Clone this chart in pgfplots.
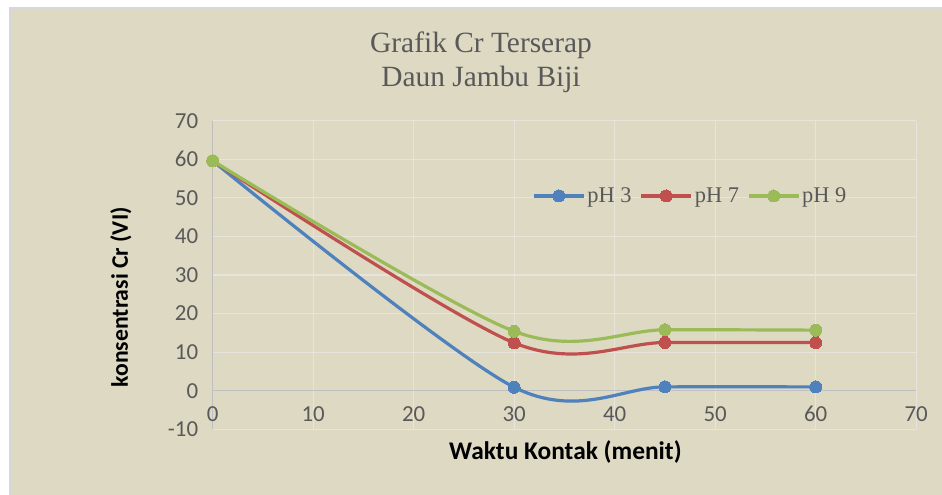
\documentclass[border=0pt]{standalone}
\usepackage{pgfplots}
\pgfplotsset{compat=1.18}
\usepackage{fontspec}
\setmainfont{Liberation Serif}
\newfontfamily\calibri{Carlito}
\definecolor{bgbeige}{RGB}{221,217,195}
\definecolor{framec}{RGB}{214,214,220}
\definecolor{gridc}{RGB}{230,228,220}
\definecolor{axc}{RGB}{191,191,191}
\definecolor{ticktxt}{RGB}{89,89,89}
\definecolor{ph3}{RGB}{79,129,189}
\definecolor{ph7}{RGB}{192,80,77}
\definecolor{ph9}{RGB}{155,187,89}
\begin{document}
\begin{tikzpicture}[x=1bp,y=1bp]
\useasboundingbox (0,0) rectangle (942,495);
\fill[white] (0,0) rectangle (942,495);
\fill[framec] (9,0) rectangle (942,488);
\fill[bgbeige] (11,0) rectangle (942,486);
\node[anchor=base, font=\fontsize{29.5}{34}\selectfont, text=ticktxt] at (481,442) {Grafik Cr Terserap};
\node[anchor=base, font=\fontsize{29.5}{34}\selectfont, text=ticktxt] at (481,408) {Daun Jambu Biji};
\begin{axis}[
  at={(212.7bp,65.7bp)}, anchor=south west,
  scale only axis, width=703.5bp, height=308.6bp,
  xmin=0, xmax=70, ymin=-10, ymax=70,
  axis x line=middle, axis y line=left,
  axis line style={-, draw=axc, line width=1.3bp},
  grid=major, major grid style={draw=gridc, line width=1.2bp},
  xtick={0,10,...,70}, ytick={-10,0,...,70},
  xticklabels={0,10,20,30,40,50,60,70},
  yticklabels={-10,0,10,20,30,40,50,60,70},
  major tick length=0pt,
  hide obscured x ticks=false, hide obscured y ticks=false,
  tick label style={font=\calibri\fontsize{23}{27}\selectfont, text=ticktxt},
  xticklabel style={yshift=-12bp},
  yticklabel style={xshift=-11bp},
  xlabel={Waktu Kontak (menit)},
  ylabel={konsentrasi Cr (VI)},
  xlabel style={at={(axis description cs:0.5014,-0.0985)}, anchor=base, font=\calibri\bfseries\fontsize{25.5}{29}\selectfont, text=black},
  ylabel style={at={(axis description cs:-0.1207,0.4277)}, anchor=base, rotate=0, font=\calibri\bfseries\fontsize{23.8}{28}\selectfont, text=black},
  legend style={at={(rel axis cs:0.4539,0.756)}, anchor=west, draw=none, fill=none, inner sep=0pt,
    font=\fontsize{22.5}{26}\selectfont, text=ticktxt,
    /tikz/every even column/.append style={column sep=6bp}},
  legend columns=3,
  legend image code/.code={\draw[mark repeat=2, mark phase=2] plot coordinates {(0bp,0bp) (25bp,0bp) (50bp,0bp)};},
  every axis plot/.append style={line width=3.2bp, smooth, tension=0.5, mark=*, mark size=6bp},
  clip=false,
]
\addplot[ph3, mark options={fill=ph3, draw=ph3, line width=0pt}] coordinates {(0,59.6) (30,0.9) (45,1.0) (60,1.0)};
\addlegendentry{pH 3}
\addplot[ph7, mark options={fill=ph7, draw=ph7, line width=0pt}] coordinates {(0,59.6) (30,12.4) (45,12.5) (60,12.5)};
\addlegendentry{pH 7}
\addplot[ph9, mark options={fill=ph9, draw=ph9, line width=0pt}] coordinates {(0,59.6) (30,15.4) (45,15.8) (60,15.7)};
\addlegendentry{pH 9}
\end{axis}
\end{tikzpicture}
\end{document}
